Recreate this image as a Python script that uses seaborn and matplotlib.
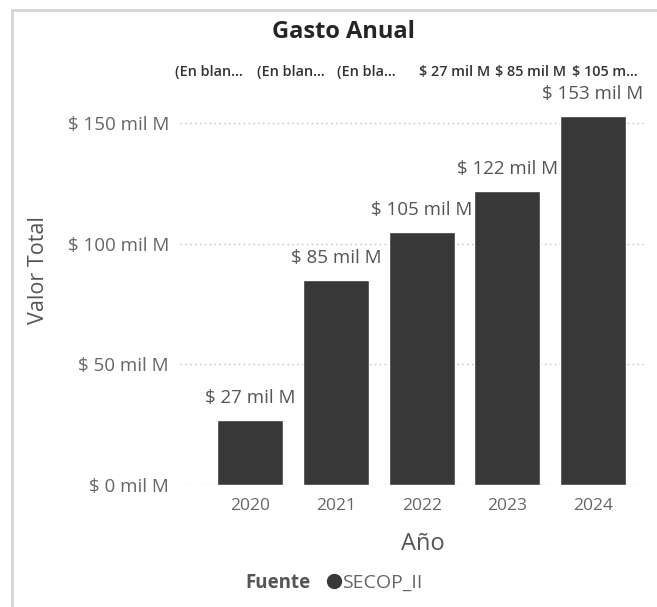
import pandas as pd
import matplotlib.pyplot as plt
import seaborn as sns
from matplotlib.lines import Line2D

sns.set_theme(style="white")
plt.rcParams['font.family'] = ['Open Sans', 'DejaVu Sans']

# data
years = ["2020", "2021", "2022", "2023", "2024"]
valor_total = [27, 85, 105, 122, 153]   # mil M
y_ticks = [0, 50, 100, 150]
top_row = ["(En blan...", "(En blan...", "(En bla...", "$ 27 mil M", "$ 85 mil M", "$ 105 m..."]

dt = pd.DataFrame({"Año": years, "Valor Total": valor_total})

W, H = 657, 607
fig = plt.figure(figsize=(W / 100, H / 100), dpi=100)
ax = fig.add_axes([180 / W, 1 - 485 / H, (647 - 180) / W, (485 - 90) / H])

bar_col = "#383838"
sns.barplot(data=dt, x="Año", y="Valor Total", color=bar_col, width=0.77,
            saturation=1, ax=ax)

ax.set_xlim(-0.82, 4.63)
ax.set_ylim(0, (485 - 90) / 2.413)
ax.set_yticks(y_ticks)
ax.set_yticklabels([f"$ {v} mil M" for v in y_ticks])
for v in y_ticks:
    ax.axhline(v, color="#bdbdbd", lw=1, ls=(0, (1, 2.5)), zorder=0)

for i, v in enumerate(valor_total):
    ax.text(i, v + 9, f"$ {v} mil M", ha="center", va="center",
            fontsize=13.5, color="#555555")

ax.tick_params(axis="y", length=0, labelsize=13.5, labelcolor="#666666", pad=8)
ax.tick_params(axis="x", length=0, labelsize=12.5, labelcolor="#666666", pad=9)
sns.despine(ax=ax, left=True, bottom=True)
ax.set_xlabel("Año", fontsize=17, color="#555555")
ax.xaxis.label.set_va("center")
ax.xaxis.set_label_coords((423 - 180) / 467, (485 - 544) / 395)
ax.set_ylabel("")
fig.text(38 / W, 1 - 270 / H, "Valor Total", rotation=90, ha="center", va="center",
         fontsize=15.5, color="#555555")

# title and truncated label row
fig.text(343 / W, 1 - 32 / H, "Gasto Anual", ha="center", va="center",
         fontsize=17, fontweight="bold", color="#252525")
xs = [175, 257, 337, 419, 495, 572]
for x, t in zip(xs, top_row):
    fig.text(x / W, 1 - 72 / H, t, ha="left", va="center", fontsize=10.4,
             fontweight="semibold", color="#333333")

# legend
fig.text(245 / W, 1 - 583 / H, "Fuente", ha="left", va="center",
         fontsize=13.5, fontweight="bold", color="#555555")
handle = Line2D([], [], marker="o", ls="", color=bar_col, markersize=10)
fig.legend(handles=[handle], labels=["SECOP_II"], loc="center left",
           bbox_to_anchor=(318 / W, 1 - 583 / H), frameon=False,
           handlelength=0.6, handletextpad=0.15, borderpad=0,
           prop={"size": 14}, labelcolor="#666666")

# panel border (top and left)
fig.add_artist(Line2D([12 / W, 1], [1 - 10 / H, 1 - 10 / H], color="#d5d5d5", lw=2,
                      transform=fig.transFigure))
fig.add_artist(Line2D([12 / W, 12 / W], [0, 1 - 10 / H], color="#d5d5d5", lw=2,
                      transform=fig.transFigure))

fig.savefig("out.png", dpi=100)
